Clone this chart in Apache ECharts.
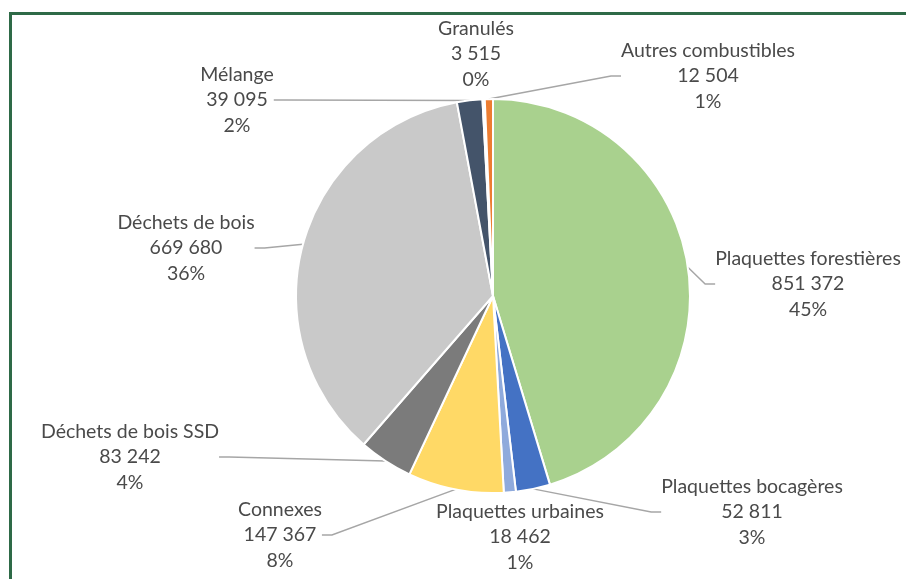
<!DOCTYPE html>
<html>
<head>
<meta charset="utf-8">
<script src="https://cdn.jsdelivr.net/npm/echarts@6/dist/echarts.min.js"></script>
<style>
html,body{margin:0;padding:0;background:#fff;}
#wrap{position:relative;width:906px;height:579px;overflow:hidden;}
#frame{position:absolute;left:9px;top:12px;right:-10px;bottom:-10px;border-left:3px solid #2E6A47;border-top:3px solid #2E6A47;}
#chart{position:absolute;left:0;top:0;width:906px;height:579px;}
</style>
</head>
<body>
<div id="wrap"><div id="frame"></div><div id="chart"></div></div>
<script>
const categories = ['Plaquettes forestières','Plaquettes bocagères','Plaquettes urbaines','Connexes','Déchets de bois SSD','Déchets de bois','Mélange','Granulés','Autres combustibles'];
const values = [851372, 52811, 18462, 147367, 83242, 669680, 39095, 3515, 12504];
const colors = ['#A9D18E','#4472C4','#8FAADC','#FFD966','#7B7B7B','#C9C9C9','#44546A','#FFFFFF','#ED7D31'];
const labelPos = [[808,284],[752,512],[520,537],[280,535],[130,457],[186,248],[237,100],[476,54],[708,76]];
const hideLine = [false,false,true,false,false,false,false,true,false];

const total = values.reduce((a,b)=>a+b,0);
function fmt(n){return String(n).replace(/\B(?=(\d{3})+(?!\d))/g,' ');}

const chart = echarts.init(document.getElementById('chart'), null, {renderer:'canvas'});
chart.setOption({
  animation:false,
  series:[{
    type:'pie',
    center:[493,296],
    radius:[0,197],
    startAngle:90,
    clockwise:true,
    avoidLabelOverlap:false,
    itemStyle:{borderColor:'#fff',borderWidth:2},
    label:{
      show:true,
      fontFamily:'Lato, "DejaVu Sans", sans-serif',
      fontSize:19.5,
      lineHeight:25.5,
      color:'#4a4a4a',
      align:'center',
      formatter:p => p.name + '\n' + fmt(p.value) + '\n' + Math.round(p.value/total*100) + '%'
    },
    labelLine:{show:true,lineStyle:{color:'#A6A6A6',width:1.5},length:10,length2:10},
    labelLayout:function(params){
      const i = params.dataIndex;
      return {x:labelPos[i][0], y:labelPos[i][1], align:'center', verticalAlign:'middle'};
    },
    data:categories.map((c,i)=>({
      name:c, value:values[i],
      itemStyle:{color:colors[i]},
      labelLine:{show:!hideLine[i]}
    }))
  }]
});
</script>
</body>
</html>
